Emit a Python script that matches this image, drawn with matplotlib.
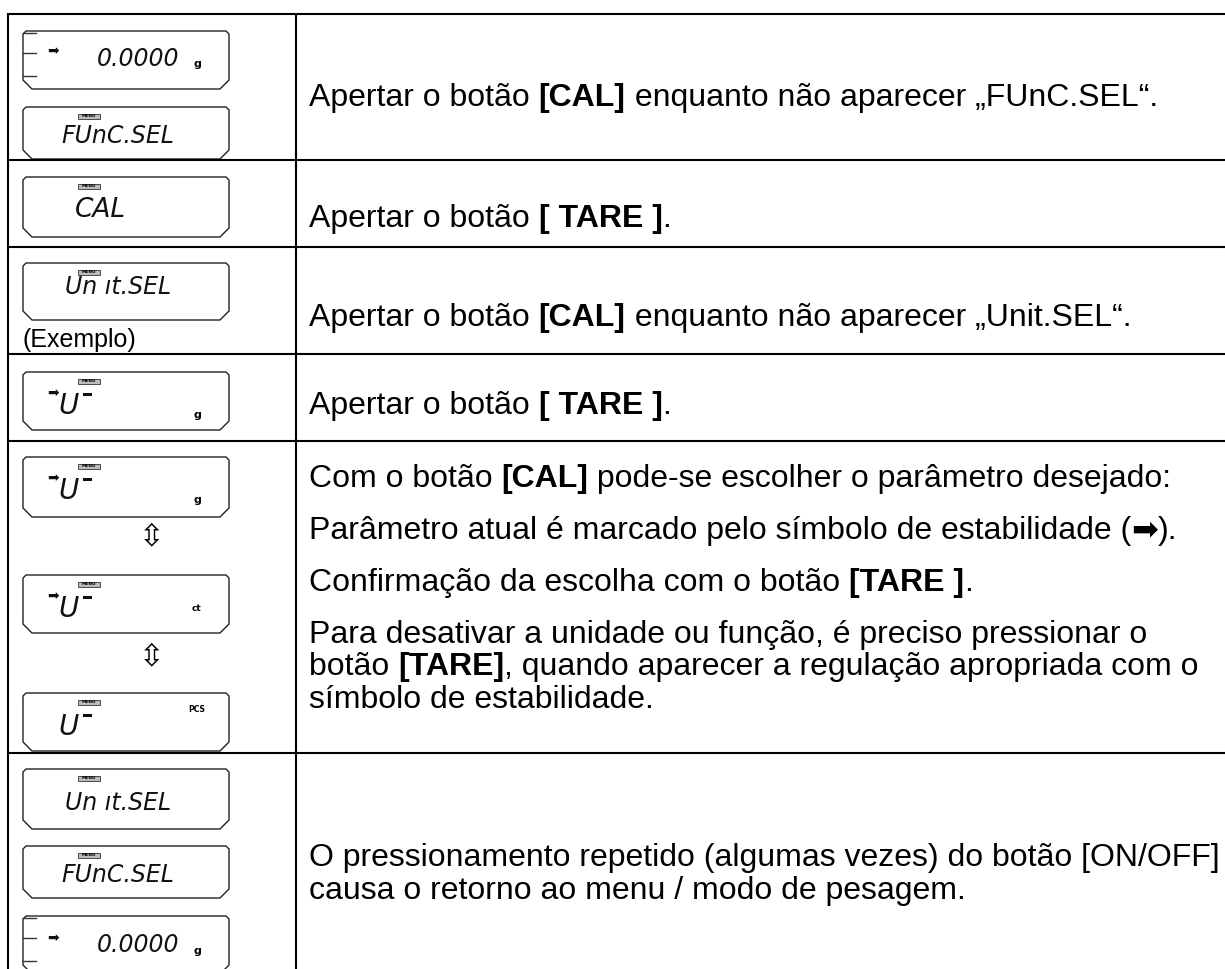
import matplotlib
matplotlib.use("Agg")
import matplotlib.pyplot as plt
from matplotlib.patches import Polygon, Rectangle

W, H, DPI = 1225, 969, 100

# ---------------- table structure ----------------
row_bounds = [14, 160, 247, 354, 441, 753]
col_bounds = [8, 296]

# ---------------- instruction texts ----------------
instructions = [
    [[("Apertar o botão ", False), ("[CAL]", True), (" enquanto não aparecer „FUnC.SEL“.", False)]],
    [[("Apertar o botão ", False), ("[ TARE ]", True), (".", False)]],
    [[("Apertar o botão ", False), ("[CAL]", True), (" enquanto não aparecer „Unit.SEL“.", False)]],
    [[("Apertar o botão ", False), ("[ TARE ]", True), (".", False)]],
    [[("Com o botão ", False), ("[CAL]", True), (" pode-se escolher o parâmetro desejado:", False)],
     [("Parâmetro atual é marcado pelo símbolo de estabilidade (", False), ("➡", False), (").", False)],
     [("Confirmação da escolha com o botão ", False), ("[TARE ]", True), (".", False)],
     [("Para desativar a unidade ou função, é preciso pressionar o", False)],
     [("botão ", False), ("[TARE]", True), (", quando aparecer a regulação apropriada com o", False)],
     [("símbolo de estabilidade.", False)]],
    [[("O pressionamento repetido (algumas vezes) do botão [ON/OFF]", False)],
     [("causa o retorno ao menu / modo de pesagem.", False)]],
]
line_baselines = [[106], [227], [326], [414], [487, 539, 591, 643, 675, 708], [866, 899]]
example_label = "(Exemplo)"

# ---------------- LCD displays ----------------
disp_text = ["0.0000", "FUnC.SEL", "CAL", "Un ıt.SEL", "U", "U", "U", "U",
             "Un ıt.SEL", "FUnC.SEL", "0.0000"]
disp_unit = ["g", "", "", "", "g", "g", "ct", "PCS", "", "", "g"]
disp_menu = [False, True, True, True, True, True, True, True, True, True, False]
disp_arrow = [True, False, False, False, True, True, True, False, False, False, True]
disp_top = [31, 107, 177, 263, 372, 457, 575, 693, 769, 846, 916]
disp_h = [58, 52, 60, 57, 58, 60, 58, 58, 60, 52, 58]
disp_textcy = [57, 134, 207, 285, 0, 0, 0, 0, 802, 874, 944]
updown_y = [537, 657]

fig = plt.figure(figsize=(W / DPI, H / DPI), dpi=DPI)
ax = fig.add_axes([0, 0, 1, 1])
ax.set_xlim(0, W)
ax.set_ylim(H, 0)
ax.axis("off")

LW = 1.5
ax.plot([col_bounds[0], W], [row_bounds[0]] * 2, color="black", lw=LW, solid_capstyle="butt")
for y in row_bounds[1:]:
    ax.plot([col_bounds[0], W], [y, y], color="black", lw=LW, solid_capstyle="butt")
for x in col_bounds:
    ax.plot([x, x], [row_bounds[0] - 1, H], color="black", lw=LW, solid_capstyle="butt")

fig.canvas.draw()
renderer = fig.canvas.get_renderer()
FONT = ["Liberation Sans", "DejaVu Sans"]
FS = 23


def width_of(s, bold):
    def w(txt):
        t = ax.text(0, 0, txt, fontsize=FS, family=FONT,
                    fontweight="bold" if bold else "normal")
        bb = t.get_window_extent(renderer)
        t.remove()
        return bb.width
    return w("X" + s + "X") - w("XX")


for row, ys in zip(instructions, line_baselines):
    for segs, yb in zip(row, ys):
        x = 309
        for s, bold in segs:
            ax.text(x, yb, s, fontsize=FS, family=FONT,
                    fontweight="bold" if bold else "normal", va="baseline", ha="left")
            x += width_of(s, bold)

ax.text(22, 347, example_label, fontsize=18, family=FONT, va="baseline", ha="left")

# LCD boxes
X0, X1 = 23, 229
LCD = dict(family="DejaVu Sans", style="oblique", color="#111111")
CAPH = 8.5
for i, t0 in enumerate(disp_top):
    t1 = t0 + disp_h[i]
    r, c = 3, 9
    pts = [(X0 + r, t0), (X1 - r, t0), (X1, t0 + r), (X1, t1 - c), (X1 - c, t1),
           (X0 + c, t1), (X0, t1 - c), (X0, t0 + r)]
    ax.add_patch(Polygon(pts, closed=True, fill=False, edgecolor="#222222", lw=1.0))
    txt = disp_text[i]
    cy = disp_textcy[i]
    if txt == "0.0000":
        for dy in (2, 22, 45):
            ax.plot([X0, X0 + 13], [t0 + dy, t0 + dy], color="#333333", lw=1.0)
        ax.text(138, cy + CAPH, txt, fontsize=17, ha="center", va="baseline", **LCD)
        ax.text(197, cy + 10, disp_unit[i], fontsize=8, fontweight="bold",
                ha="center", va="baseline", family="DejaVu Sans")
        arrow_y = cy - 6
    elif txt == "U":
        ax.text(69, t0 + 42, "U", fontsize=20, ha="center", va="baseline", **LCD)
        ax.plot([84, 90], [t0 + 22, t0 + 22], color="#111111", lw=2.2)
        u = disp_unit[i]
        if u == "PCS":
            ax.text(197, t0 + 17, u, fontsize=5.5, fontweight="bold", ha="center",
                    va="center", family="DejaVu Sans")
        elif u == "ct":
            ax.text(197, t0 + 36, u, fontsize=6.5, fontweight="bold",
                    ha="center", va="baseline", family="DejaVu Sans")
        else:
            ax.text(197, t0 + 46, u, fontsize=8, fontweight="bold",
                    ha="center", va="baseline", family="DejaVu Sans")
        arrow_y = t0 + 21
    else:
        cx = 100 if txt == "CAL" else 118
        fs = 19 if txt == "CAL" else 17
        ax.text(cx, cy + (CAPH if fs == 17 else 9.5), txt, fontsize=fs, ha="center",
                va="baseline", **LCD)
    if disp_menu[i]:
        ax.add_patch(Rectangle((78, t0 + 7), 22, 4.5, facecolor="#bbbbbb",
                               edgecolor="#333333", lw=0.6))
        ax.text(89, t0 + 9.4, "MENU", fontsize=3.2, ha="center", va="center",
                family="DejaVu Sans", fontweight="bold")
    if disp_arrow[i]:
        ax.text(53.5, arrow_y, "➡", fontsize=10, ha="center", va="center",
                family="DejaVu Sans", color="#111111")

for y in updown_y:
    ax.text(152, y, "⇳", fontsize=22, ha="center", va="center", family="DejaVu Sans")

fig.savefig("out.png", dpi=DPI)
